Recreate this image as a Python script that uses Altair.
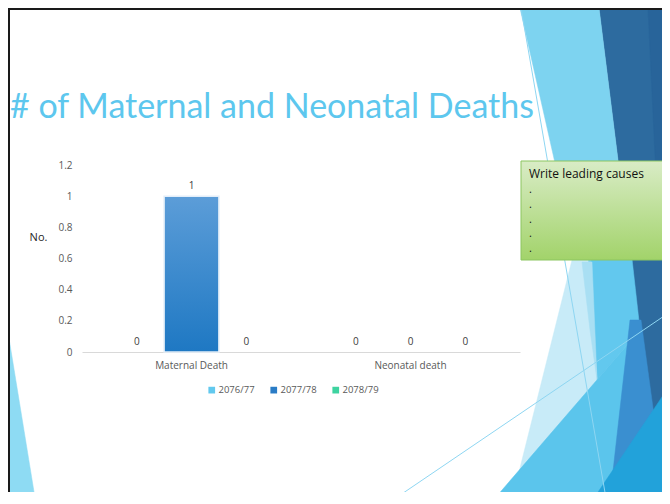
import altair as alt
import pandas as pd

# ---------------- data ----------------
categories = ["Maternal Death", "Neonatal death"]
years = ["2076/77", "2077/78", "2078/79"]
maternal = [0, 1, 0]
neonatal = [0, 0, 0]
y_ticks = [0, 0.2, 0.4, 0.6, 0.8, 1.0, 1.2]

rows = []
for cat, vals in zip(categories, [maternal, neonatal]):
    for yr, v in zip(years, vals):
        rows.append({"cause": cat, "year": yr, "deaths": v})
df = pd.DataFrame(rows)

year_colors = ["#62C9EE", "#2A7CC6", "#3ED3A0"]

# ---------------- layout (page pixels) ----------------
W, H = 438, 187          # plot area
X0, Y0 = 82, 165         # page position of plot area
PAD = {"left": X0 - 8, "top": Y0 - 8, "right": 654 - (X0 - 8) - W, "bottom": 484 - (Y0 - 8) - H}
FONT = "Open Sans"

# ---------------- slide decoration (page pixel coordinates, drawn in order) ----------------
decor_polys = [
    ("#2D6B9F", [(599, 8), (670, 8), (670, 504), (661, 504)]),
    ("#28649A", [(648, 8), (670, 8), (670, 260), (660, 260)]),
    ("#7DD3F0", [(520, 8), (599, 8), (628, 240), (586, 300)]),
    ("#62C8EE", [(592, 250), (631, 250), (640, 330), (597, 380), (588, 320)]),
    ("#C8EBF8", [(572, 260), (588, 260), (597, 380), (511, 504)]),
    ("#A9DFF3", [(582, 262), (592, 262), (597, 380), (590, 330)]),
    ("#5BC5EC", [(490, 504), (640, 330), (652, 420), (620, 504)]),
    ("#3A8FD0", [(630, 320), (641, 320), (656, 430), (612, 480)]),
    ("#22A2DA", [(590, 504), (670, 385), (670, 504)]),
    ("#8EDBF3", [(6, 320), (6, 504), (36, 504)]),
]
decor_lines = [
    ("#8ED6F2", [(521, 8), (607, 504)]),
    ("#8ED6F2", [(387, 504), (670, 312)]),
]

xs = alt.Scale(domain=[X0, X0 + W], nice=False, zero=False)
ys = alt.Scale(domain=[Y0, Y0 + H], nice=False, zero=False, reverse=True)

decor_layers = []
for col, pts in decor_polys:
    d = pd.DataFrame({"px": [p[0] for p in pts], "py": [p[1] for p in pts], "i": list(range(len(pts)))})
    decor_layers.append(
        alt.Chart(d).mark_line(fill=col, stroke=col, strokeWidth=0.5, interpolate="linear-closed").encode(
            x=alt.X("px:Q", scale=xs, axis=None),
            y=alt.Y("py:Q", scale=ys, axis=None),
            order="i:O",
        )
    )
for col, pts in decor_lines:
    d = pd.DataFrame({"px": [p[0] for p in pts], "py": [p[1] for p in pts], "i": list(range(len(pts)))})
    decor_layers.append(
        alt.Chart(d).mark_line(stroke=col, strokeWidth=1).encode(
            x=alt.X("px:Q", scale=xs, axis=None),
            y=alt.Y("py:Q", scale=ys, axis=None),
            order="i:O",
        )
    )
decor = alt.layer(*decor_layers)

# ---------------- bar chart ----------------
x_enc = alt.X(
    "cause:N", sort=categories,
    scale=alt.Scale(paddingInner=0.25, paddingOuter=0.125),
    axis=alt.Axis(title=None, labelAngle=0, ticks=False, grid=False, domainColor="#D9D9D9",
                  labelColor="#595959", labelFontSize=10, labelPadding=8, labelFont=FONT),
)
xo_enc = alt.XOffset("year:N", sort=years, scale=alt.Scale(paddingInner=0, paddingOuter=0))
y_enc = alt.Y(
    "deaths:Q", scale=alt.Scale(domain=[0, 1.2], nice=False),
    axis=alt.Axis(values=y_ticks, format="~g", grid=False, domain=False, ticks=False,
                  labelColor="#595959", labelFontSize=10, labelPadding=10, labelFont=FONT,
                  title="No.", titleAngle=0, titleX=-44, titleY=72, titleAlign="center",
                  titleBaseline="middle", titleFontSize=11, titleFontWeight="normal",
                  titleColor="#262626", titleFont=FONT),
)

bars = alt.Chart(df).mark_bar().encode(
    x=x_enc, xOffset=xo_enc, y=y_enc,
    color=alt.Color("year:N", sort=years, scale=alt.Scale(domain=years, range=year_colors),
                    legend=alt.Legend(title=None, orient="none", legendX=125, legendY=220,
                                      direction="horizontal", symbolType="square", symbolSize=45,
                                      symbolStrokeWidth=0, labelFontSize=9.5, labelColor="#595959",
                                      labelFont=FONT, columnPadding=14, labelOffset=2)),
)

bar_gradient = alt.Gradient(
    gradient="linear", x1=0, y1=0, x2=0, y2=1,
    stops=[alt.GradientStop(offset=0, color="#5C9DD8"), alt.GradientStop(offset=1, color="#1E78C3")],
)
bars_grad = alt.Chart(df).transform_filter("datum.deaths > 0").mark_bar(
    color=bar_gradient, stroke="#E3EEF9", strokeWidth=1.5
).encode(x=x_enc, xOffset=xo_enc, y=y_enc)

labels = alt.Chart(df).mark_text(dy=-5, baseline="bottom", fontSize=10, color="#404040", font=FONT).encode(
    x=x_enc, xOffset=xo_enc, y=y_enc, text="deaths:Q"
)

one = pd.DataFrame({"k": [0]})

title = alt.Chart(one).mark_text(
    text="# of Maternal and Neonatal Deaths", font="Lato", fontSize=34, color="#5DC7EE",
    align="left", baseline="alphabetic",
).encode(x=alt.value(10 - X0), y=alt.value(118 - Y0))

box_gradient = alt.Gradient(
    gradient="linear", x1=0, y1=0, x2=0, y2=1,
    stops=[alt.GradientStop(offset=0, color="#D9ECC6"), alt.GradientStop(offset=1, color="#A2D36A")],
)
box = alt.Chart(one).mark_rect(color=box_gradient, stroke="#8CC560", strokeWidth=1).encode(
    x=alt.value(521 - X0), x2=alt.value(680 - X0), y=alt.value(161 - Y0), y2=alt.value(260 - Y0)
)

box_heading = alt.Chart(one).mark_text(
    text="Write leading causes", font=FONT, fontSize=12, color="#111111",
    align="left", baseline="middle",
).encode(x=alt.value(529 - X0), y=alt.value(174 - Y0))

bullet_baselines = [193, 208, 223, 237, 252]  # page y of each bullet's baseline
box_bullets = []
for yy in bullet_baselines:
    box_bullets.append(
        alt.Chart(one).mark_text(
            text=".", font=FONT, fontSize=11, color="#111111", align="left", baseline="alphabetic",
        ).encode(x=alt.value(529 - X0), y=alt.value(yy - Y0))
    )

border_top = alt.Chart(one).mark_rule(color="#1A1A1A", strokeWidth=2).encode(
    x=alt.value(-X0), x2=alt.value(700), y=alt.value(9 - Y0)
)
border_left = alt.Chart(one).mark_rule(color="#1A1A1A", strokeWidth=2).encode(
    x=alt.value(9 - X0), y=alt.value(8 - Y0), y2=alt.value(520 - Y0)
)

main = alt.layer(bars, bars_grad, labels, title, box, box_heading, *box_bullets, border_top, border_left)

chart = alt.layer(decor, main).resolve_scale(x="independent", y="independent").properties(
    width=W, height=H, autosize=alt.AutoSizeParams(type="none"), padding=PAD, background="white"
).configure_view(strokeWidth=0)

chart.save("out.html", embed_options={"renderer": "svg", "actions": False})
